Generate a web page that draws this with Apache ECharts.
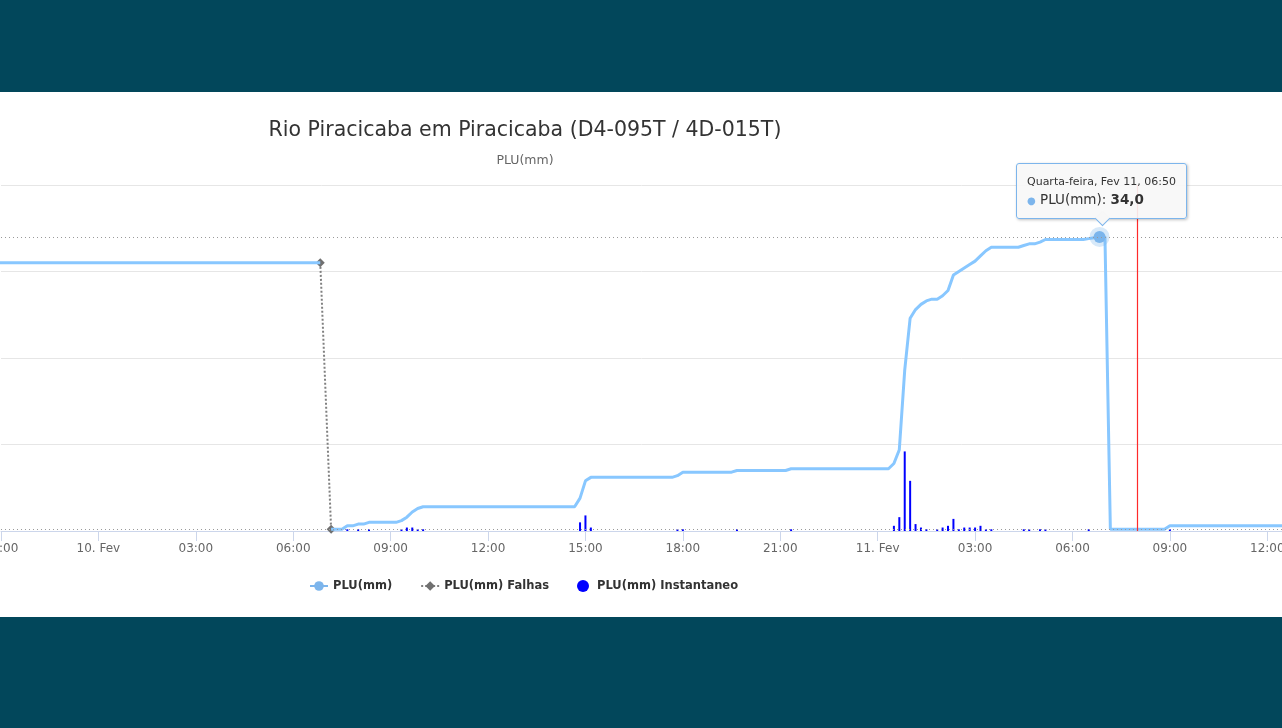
<!DOCTYPE html>
<html>
<head>
<meta charset="utf-8">
<title>Rio Piracicaba em Piracicaba</title>
<script src="https://cdn.jsdelivr.net/npm/echarts@6/dist/echarts.min.js"></script>
<style>
  html, body { margin:0; padding:0; width:1282px; height:728px; background:#02475b; overflow:hidden; }
  .demo { position:absolute; left:0; top:92px; width:1282px; height:525px; background:#fff; }
</style>
</head>
<body>
<div class="demo"></div>
<script>
// acumulado antes da falha
const pluAntes = [['02-09 20:00', 31.0], ['02-10 06:50', 31.0]]
// acumulado depois da falha
const pluDepois = [
  ['02-10 07:10',0.2],['02-10 07:30',0.2],['02-10 07:40',0.6],['02-10 07:50',0.6],['02-10 08:00',0.8],
  ['02-10 08:10',0.8],['02-10 08:20',1.0],['02-10 09:10',1.0],['02-10 09:20',1.2],['02-10 09:30',1.6],
  ['02-10 09:40',2.2],['02-10 09:50',2.6],['02-10 10:00',2.8],['02-10 14:40',2.8],['02-10 14:50',3.8],
  ['02-10 15:00',5.8],['02-10 15:10',6.2],['02-10 17:40',6.2],['02-10 17:50',6.4],['02-10 18:00',6.8],
  ['02-10 19:30',6.8],['02-10 19:40',7.0],['02-10 21:10',7.0],['02-10 21:20',7.2],['02-11 00:20',7.2],
  ['02-11 00:30',7.8],['02-11 00:40',9.4],['02-11 00:50',18.6],['02-11 01:00',24.6],['02-11 01:10',25.6],
  ['02-11 01:20',26.2],['02-11 01:30',26.6],['02-11 01:40',26.8],['02-11 01:50',26.8],['02-11 02:00',27.2],
  ['02-11 02:10',27.8],['02-11 02:20',29.6],['02-11 02:30',30.0],['02-11 02:40',30.4],['02-11 02:50',30.8],
  ['02-11 03:00',31.2],['02-11 03:10',31.8],['02-11 03:20',32.4],['02-11 03:30',32.8],['02-11 04:20',32.8],
  ['02-11 04:30',33.0],['02-11 04:40',33.2],['02-11 04:50',33.2],['02-11 05:00',33.4],['02-11 05:10',33.7],
  ['02-11 06:20',33.7],['02-11 06:30',33.8],['02-11 06:40',33.9],['02-11 06:50',34.0],['02-11 07:00',34.0],
  ['02-11 07:10',0.2],['02-11 08:50',0.2],['02-11 09:00',0.6],['02-11 13:00',0.6]
]
const falhas = [['02-10 06:50', 31.0], ['02-10 07:10', 0.2]]
const instantaneo = [
  ['02-10 07:40',0.2],['02-10 08:00',0.2],['02-10 08:20',0.2],['02-10 09:20',0.2],['02-10 09:30',0.4],
  ['02-10 09:40',0.4],['02-10 09:50',0.2],['02-10 10:00',0.2],['02-10 14:50',1.0],['02-10 15:00',1.8],
  ['02-10 15:10',0.4],['02-10 17:50',0.2],['02-10 18:00',0.2],['02-10 19:40',0.2],['02-10 21:20',0.2],
  ['02-11 00:30',0.6],['02-11 00:40',1.6],['02-11 00:50',9.2],['02-11 01:00',5.8],['02-11 01:10',0.8],
  ['02-11 01:20',0.4],['02-11 01:30',0.2],['02-11 01:50',0.2],['02-11 02:00',0.4],['02-11 02:10',0.6],
  ['02-11 02:20',1.4],['02-11 02:30',0.2],['02-11 02:40',0.4],['02-11 02:50',0.4],['02-11 03:00',0.4],
  ['02-11 03:10',0.6],['02-11 03:20',0.2],['02-11 03:30',0.2],['02-11 04:30',0.2],['02-11 04:40',0.2],
  ['02-11 05:00',0.2],['02-11 05:10',0.2],['02-11 06:30',0.2],['02-11 09:00',0.2]
]
// eixo x: de 21:00 (primeiro tick) até a borda direita
const eixoX = ['02-09 21:00', '02-11 12:27:10']
const linhaMax = 34.0
const linhaMin = 0.2
const agora = '02-11 08:00'
const pontoTip = '02-11 06:50'

function t(s) {
  const [md, hm] = s.split(' ')
  const [mo, d] = md.split('-').map(Number)
  const [h, mi, se] = hm.split(':').map(Number)
  return Date.UTC(2015, mo - 1, d, h, mi, se || 0)
}
const conv = arr => arr.map(p => [t(p[0]), p[1]])
const pluData = conv(pluAntes).concat([[t('02-10 07:00'), null]], conv(pluDepois))
const dias = ['Domingo','Segunda-feira','Terça-feira','Quarta-feira','Quinta-feira','Sexta-feira','Sábado']
const dois = n => String(n).padStart(2, '0')
const TRES_H = 3 * 3600 * 1000

;(function(){
  const chartinstance = echarts.init(document.querySelector('.demo'))
  const dot = { color:'#999', type:[1,3], width:1 }
  const seta = '<div style="position:absolute;left:50%;bottom:-6px;width:10px;height:10px;margin-left:-5px;' +
    'background:#f7f7f7;border-right:1px solid #7cb5ec;border-bottom:1px solid #7cb5ec;transform:rotate(45deg)"></div>'
  const option = {
    animation:false,
    textStyle:{ fontFamily:'DejaVu Sans' },
    title:[
      { text:'Rio Piracicaba em Piracicaba (D4-095T / 4D-015T)', left:520, top:23, textAlign:'center',
        textStyle:{ fontSize:20.5, fontWeight:'normal', color:'#333' } },
      { text:'PLU(mm)', left:520, top:57, textAlign:'center',
        textStyle:{ fontSize:12.5, fontWeight:'normal', color:'#666' } }
    ],
    legend:{
      left:304, top:483, itemWidth:18, itemHeight:12, itemGap:28,
      textStyle:{ fontWeight:'bold', fontSize:11.5, color:'#333' },
      data:[ {name:'PLU(mm)'}, {name:'PLU(mm) Falhas'}, {name:'PLU(mm) Instantaneo', icon:'circle'} ]
    },
    tooltip:{
      trigger:'item', triggerOn:'none', alwaysShowContent:true,
      transitionDuration:0,
      backgroundColor:'rgba(247,247,247,0.9)', borderColor:'#7cb5ec', borderWidth:1,
      padding:[8,10,10,10],
      textStyle:{ color:'#333', fontFamily:'DejaVu Sans' },
      extraCssText:'border-radius:3px;box-shadow:1px 1px 3px rgba(0,0,0,0.25);',
      position:function(point, params, dom, rect, size){
        const p = chartinstance.convertToPixel({ seriesIndex:0 }, [t(pontoTip), linhaMax])
        return [p[0] + 2 - size.contentSize[0] / 2, p[1] - size.contentSize[1] - 18]
      },
      formatter:function(p){
        const d = new Date(p.value[0])
        return '<div style="font-size:11px;line-height:20px">' + dias[d.getUTCDay()] + ', Fev ' + d.getUTCDate() + ', ' +
          dois(d.getUTCHours()) + ':' + dois(d.getUTCMinutes()) + '</div>' +
          '<div style="font-size:13.5px;line-height:15px"><span style="color:#7cb5ec;font-size:10px">\u25CF</span> PLU(mm): <b>' +
          p.value[1].toFixed(1).replace('.', ',') + '</b></div>' + seta
      }
    },
    grid:{ left:1, right:0, top:93, bottom:86, containLabel:false, outerBoundsMode:'none' },
    xAxis:{
      type:'value',
      min:t(eixoX[0]), max:t(eixoX[1]), interval:TRES_H,
      axisLine:{ lineStyle:{ color:'#ccd6eb' } },
      axisTick:{ length:10, lineStyle:{ color:'#ccd6eb' } },
      splitLine:{ show:false },
      axisLabel:{
        color:'#666', fontSize:12, margin:12, hideOverlap:false,
        formatter:function(v){
          const d = new Date(v)
          const h = d.getUTCHours()
          if (d.getUTCMinutes() !== 0 || d.getUTCSeconds() !== 0 || h % 3 !== 0) return ''
          if (h === 0) return d.getUTCDate() + '. Fev'
          return dois(h) + ':00'
        }
      }
    },
    yAxis:{
      type:'value', min:0, max:40, interval:10,
      axisLabel:{ show:false }, axisLine:{ show:false }, axisTick:{ show:false },
      splitLine:{ lineStyle:{ color:'#e6e6e6' } }
    },
    series:[
      {
        name:'PLU(mm)', type:'line', data:pluData, z:4,
        color:'#7cb5ec', symbol:'circle', symbolSize:12, showSymbol:false, connectNulls:false,
        lineStyle:{ width:3, color:'#7cb5ec' },
        emphasis:{ scale:false, lineStyle:{ width:3 },
          itemStyle:{ color:'#7cb5ec', borderColor:'rgba(124,181,236,0.3)', borderWidth:8 } }
      },
      {
        name:'PLU(mm) Falhas', type:'line', data:conv(falhas), z:3,
        color:'#707070', symbol:'diamond', symbolSize:9,
        lineStyle:{ width:2, type:'dotted', color:'#808080' },
        itemStyle:{ color:'#707070' }
      },
      {
        name:'PLU(mm) Instantaneo', type:'bar', data:conv(instantaneo), z:2,
        color:'#0000ff', barWidth:2,
        markLine:{
          silent:true, symbol:['none','none'], label:{ show:false }, animation:false,
          data:[
            { yAxis:linhaMax, lineStyle:dot },
            { yAxis:linhaMin, lineStyle:dot },
            { xAxis:t(agora), lineStyle:{ color:'#ff2a2a', type:'solid', width:1.2, opacity:1 } }
          ]
        }
      }
    ]
  }
  option && chartinstance.setOption(option)
  const idx = pluData.findIndex(p => p[0] === t(pontoTip))
  chartinstance.dispatchAction({ type:'highlight', seriesIndex:0, dataIndex:idx })
  chartinstance.dispatchAction({ type:'showTip', seriesIndex:0, dataIndex:idx })
  window.addEventListener('resize',()=>{
    chartinstance.resize();
  })
})();
</script>
</body>
</html>
